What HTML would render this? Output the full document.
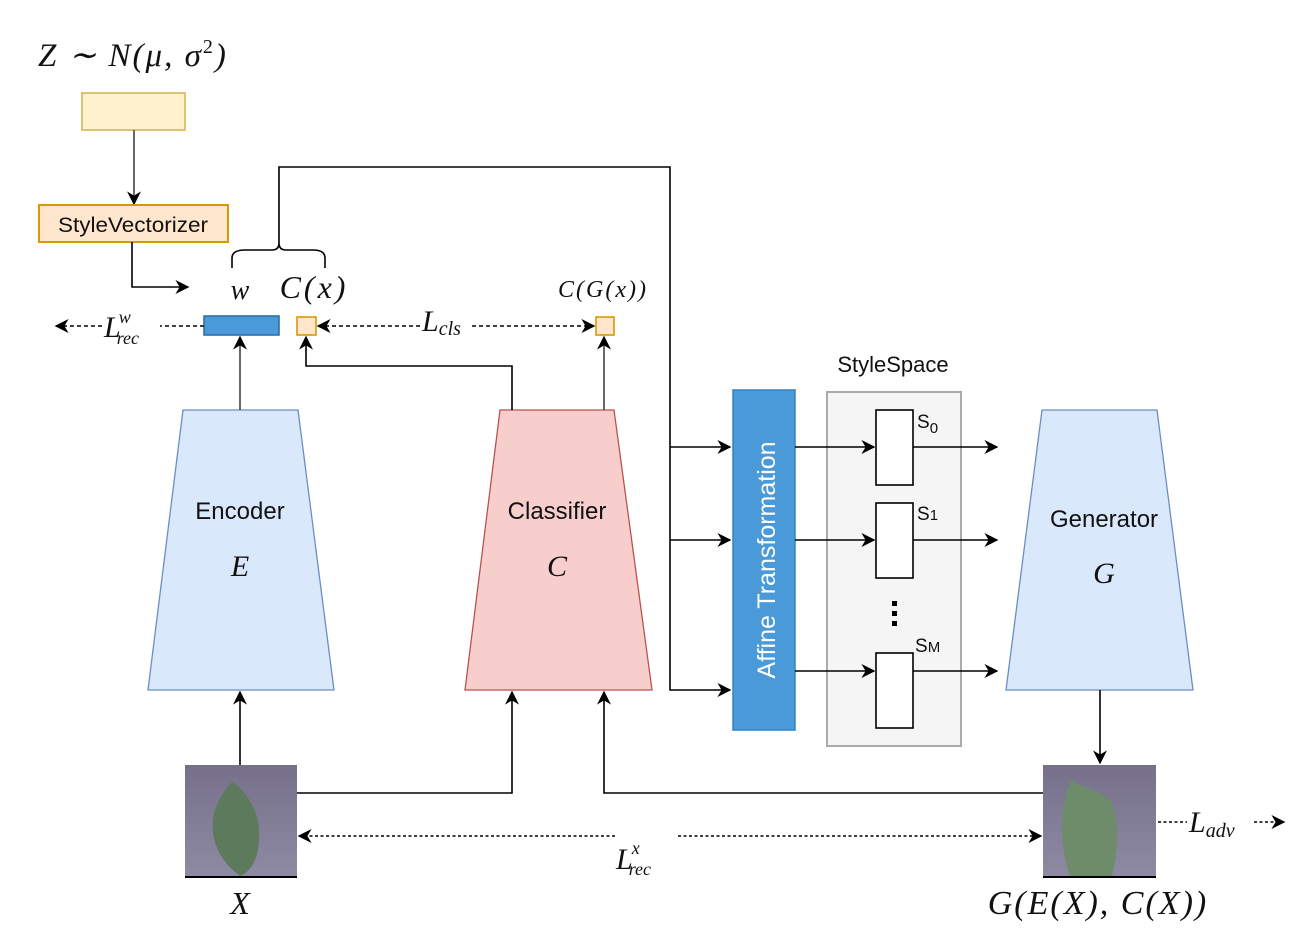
<!DOCTYPE html>
<html><head><meta charset="utf-8"><style>
html,body{margin:0;padding:0;background:#fff;width:1304px;height:952px;overflow:hidden}
svg{display:block}
.m{font-family:"Liberation Serif",serif;font-style:italic;fill:#111}
.s{font-family:"Liberation Sans",sans-serif;fill:#111}
</style></head><body>
<svg width="1304" height="952" viewBox="0 0 1304 952" xmlns="http://www.w3.org/2000/svg">
<defs>
<marker id="b" viewBox="0 0 10 10" refX="9" refY="5" markerWidth="14" markerHeight="14" orient="auto-start-reverse" markerUnits="userSpaceOnUse"><path d="M0,0 L10,5 L0,10 L3,5 z" fill="#000"/></marker>
<linearGradient id="bg" x1="0" y1="0" x2="0" y2="1"><stop offset="0" stop-color="#76708a"/><stop offset="1" stop-color="#8f8aa3"/></linearGradient>
</defs>
<g stroke="#000" stroke-width="1.6" fill="none">
<rect x="82" y="93" width="103" height="37" fill="#fff2cc" stroke="#d6b656"/>
<line x1="134" y1="130" x2="134" y2="204" marker-end="url(#b)" stroke="#444"/>
<rect x="39" y="205" width="189" height="37" fill="#ffe6cc" stroke="#d79b00" stroke-width="2"/>
<polyline points="132,242 132,287 188,287" marker-end="url(#b)"/>
<path d="M232,268 V258 Q232,250 245,250 H272 Q279,250 279,243 Q279,250 286,250 H313 Q325,250 325,258 V268"/>
<polyline points="279,243 279,167 670,167 670,690 730,690" marker-end="url(#b)"/>
<line x1="670" y1="447" x2="730" y2="447" marker-end="url(#b)"/>
<line x1="670" y1="540" x2="730" y2="540" marker-end="url(#b)"/>
<rect x="204" y="316" width="75" height="19" fill="#4a9ad9" stroke="#2f6fa8"/>
<rect x="297" y="317" width="19" height="18" fill="#ffe6cc" stroke="#d79b00"/>
<rect x="596" y="317" width="18" height="18" fill="#ffe6cc" stroke="#d79b00"/>
<line x1="204" y1="326" x2="160" y2="326" stroke-dasharray="4,3"/>
<line x1="102" y1="326" x2="56" y2="326" stroke-dasharray="4,3" marker-end="url(#b)"/>
<line x1="318" y1="326" x2="594" y2="326" stroke-dasharray="4,3" marker-start="url(#b)" marker-end="url(#b)"/>
<path d="M183,410 H298 L334,690 H148 Z" fill="#dae8fc" stroke="#6c8ebf" stroke-width="1.3"/>
<line x1="240" y1="410" x2="240" y2="337" marker-end="url(#b)" stroke="#444"/>
<path d="M500,410 H614 L652,690 H465 Z" fill="#f8cecc" stroke="#b85450" stroke-width="1.3"/>
<polyline points="512,410 512,366 306,366 306,337" marker-end="url(#b)"/>
<line x1="604" y1="410" x2="604" y2="337" marker-end="url(#b)" stroke="#444"/>
<rect x="733" y="390" width="62" height="340" fill="#4a9ad9" stroke="#3a86c8"/>
<rect x="827" y="392" width="134" height="354" fill="#f5f5f5" stroke="#aaa" stroke-width="2"/>
<rect x="876" y="410" width="37" height="75" fill="#fff"/>
<rect x="876" y="503" width="37" height="75" fill="#fff"/>
<rect x="876" y="653" width="37" height="75" fill="#fff"/>
<line x1="795" y1="447" x2="874" y2="447" marker-end="url(#b)"/>
<line x1="795" y1="540" x2="874" y2="540" marker-end="url(#b)"/>
<line x1="795" y1="671" x2="874" y2="671" marker-end="url(#b)"/>
<line x1="913" y1="447" x2="997" y2="447" marker-end="url(#b)"/>
<line x1="913" y1="540" x2="997" y2="540" marker-end="url(#b)"/>
<line x1="913" y1="671" x2="997" y2="671" marker-end="url(#b)"/>
<path d="M1042,410 H1157 L1193,690 H1006 Z" fill="#dae8fc" stroke="#6c8ebf" stroke-width="1.3"/>
<line x1="1100" y1="690" x2="1100" y2="763" marker-end="url(#b)"/>
<line x1="240" y1="765" x2="240" y2="692" marker-end="url(#b)"/>
<polyline points="297,793 512,793 512,692" marker-end="url(#b)"/>
<polyline points="1043,793 604,793 604,692" marker-end="url(#b)"/>
<line x1="615" y1="836" x2="299" y2="836" stroke-dasharray="3,2.5" marker-end="url(#b)"/>
<line x1="678" y1="836" x2="1041" y2="836" stroke-dasharray="3,2.5" marker-end="url(#b)"/>
<line x1="1158" y1="822" x2="1187" y2="822" stroke-dasharray="3,2.5"/>
<line x1="1254" y1="822" x2="1284" y2="822" stroke-dasharray="3,2.5" marker-end="url(#b)"/>
</g>
<rect x="185" y="765" width="112" height="112" fill="url(#bg)"/>
<path d="M232,782 C205,810 205,850 240,876 C255,870 262,850 258,820 C252,800 242,788 232,782 Z" fill="#5d7a5c"/>
<line x1="185" y1="877" x2="297" y2="877" stroke="#000" stroke-width="2"/>
<rect x="1043" y="765" width="113" height="112" fill="url(#bg)"/>
<path d="M1072,780 C1060,800 1058,840 1070,876 L1112,876 C1120,845 1118,815 1110,800 C1098,790 1082,788 1072,780 Z" fill="#6e8c6a"/>
<line x1="1043" y1="877" x2="1156" y2="877" stroke="#000" stroke-width="2"/>
<text x="38" y="66" class="m" font-size="33" letter-spacing="2">Z ∼ N(μ, σ<tspan font-size="20" font-style="normal" dy="-13">2</tspan><tspan dy="13">)</tspan></text>
<text x="133" y="232" class="s" font-size="21" text-anchor="middle" textLength="150" lengthAdjust="spacingAndGlyphs">StyleVectorizer</text>
<text x="240" y="299" class="m" font-size="28" text-anchor="middle">w</text>
<text x="314" y="298" class="m" font-size="32" text-anchor="middle" letter-spacing="3">C(x)</text>
<text x="603" y="297" class="m" font-size="24" text-anchor="middle" letter-spacing="2">C(G(x))</text>
<text x="104" y="337" class="m" font-size="30">L<tspan font-size="18" dy="-14" dx="-2">w</tspan><tspan font-size="18" dy="21" dx="-14">rec</tspan></text>
<rect x="420" y="305" width="52" height="34" fill="#fff"/>
<text x="422" y="331" class="m" font-size="30">L<tspan font-size="20" dy="4">cls</tspan></text>
<text x="240" y="519" class="s" font-size="24" text-anchor="middle">Encoder</text>
<text x="240" y="576" class="m" font-size="30" text-anchor="middle">E</text>
<text x="557" y="519" class="s" font-size="24" text-anchor="middle">Classifier</text>
<text x="557" y="576" class="m" font-size="30" text-anchor="middle">C</text>
<text x="1104" y="527" class="s" font-size="24" text-anchor="middle">Generator</text>
<text x="1104" y="583" class="m" font-size="30" text-anchor="middle">G</text>
<text x="893" y="372" class="s" font-size="22" text-anchor="middle">StyleSpace</text>
<text transform="translate(775,560) rotate(-90)" class="s" font-size="25" text-anchor="middle" style="fill:#fff">Affine Transformation</text>
<text x="917" y="428" class="s" font-size="19">S<tspan font-size="15" dy="5">0</tspan></text>
<text x="917" y="520" class="s" font-size="19">S<tspan font-size="15">1</tspan></text>
<text x="915" y="652" class="s" font-size="19">S<tspan font-size="15">M</tspan></text>
<g fill="#000"><rect x="892" y="601" width="5" height="5"/><rect x="892" y="611" width="5" height="5"/><rect x="892" y="621" width="5" height="5"/></g>
<text x="616" y="869" class="m" font-size="30">L<tspan font-size="18" dy="-15" dx="-1">x</tspan><tspan font-size="18" dy="21" dx="-11">rec</tspan></text>
<text x="1189" y="832" class="m" font-size="30">L<tspan font-size="20" dy="5">adv</tspan></text>
<text x="240" y="914" class="m" font-size="32" text-anchor="middle">X</text>
<text x="1098" y="914" class="m" font-size="34" text-anchor="middle" letter-spacing="2">G(E(X), C(X))</text>
</svg>
</body></html>
